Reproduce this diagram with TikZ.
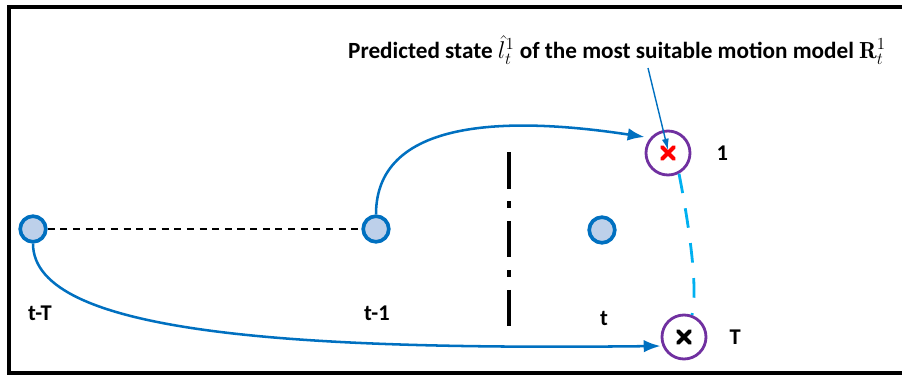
\documentclass[tikz,border=0pt]{standalone}
\usepackage{fontspec}
\setsansfont{Carlito}
\usetikzlibrary{arrows.meta, positioning, calc}
\definecolor{stateblue}{RGB}{0, 112, 192}
\definecolor{statefill}{RGB}{189, 208, 234}
\definecolor{modelpurple}{RGB}{112, 48, 160}
\definecolor{linkcyan}{RGB}{0, 176, 240}

\begin{document}
\begin{tikzpicture}[
    x=0.025cm, y=-0.025cm,
    % Styles embedded for portability
    state/.style={circle, draw=stateblue, fill=statefill, line width=2.6pt, minimum size=0.64cm, inner sep=0pt},
    model/.style={circle, draw=modelpurple, fill=white, line width=2pt, minimum size=1.1cm, inner sep=0pt},
    lbl/.style={font=\sffamily\bfseries\fontsize{16}{18}\selectfont, inner sep=0pt},
    track/.style={draw=stateblue, line width=1.8pt, -{Latex[length=12pt, width=9pt]}},
    pointer/.style={draw=stateblue, line width=1pt, -{Latex[length=8pt, width=5pt]}},
    history/.style={draw=black, line width=2pt, dash pattern=on 5pt off 4pt},
    divider/.style={draw=black, line width=2.8pt, dash pattern=on 26pt off 9pt on 5pt off 9pt},
    switchlink/.style={draw=linkcyan, line width=2pt, dash pattern=on 14pt off 11pt},
    cross/.style={line width=2.8pt, line cap=round}
]

    % --- FRAME ---
    \useasboundingbox (0,0) rectangle (902,376);
    \draw [line width=2.2pt] (910,7) -- (9,7) -- (9,373) -- (910,373);

    % --- STATES OVER TIME ---
    \node [state] (sTT) at (33,229) {};
    \node [state] (sT1) at (376,229) {};
    \node [state] (sT) at (602,230) {};

    \node [lbl] (lTT) at (40,313) {t-T};
    \node [lbl] (lT1) at (377,313) {t-1};
    \node [lbl] (lT) at (604,318) {t};

    % --- MOTION MODELS ---
    \node [model] (m1) at (668,153) {};
    \node [model] (mT) at (684,337) {};
    \node [lbl, right=0.62cm of m1] (l1) {1};
    \node [lbl, right=0.55cm of mT] (lMT) {T};

    % crosses marking predicted states
    \draw [cross, red] ($(m1)+(-6,-6)$) -- ($(m1)+(6,6)$) ($(m1)+(-6,6)$) -- ($(m1)+(6,-6)$);
    \draw [cross, black] ($(mT)+(-6,-6)$) -- ($(mT)+(6,6)$) ($(mT)+(-6,6)$) -- ($(mT)+(6,-6)$);

    % --- TIME DIVIDER ---
    \coordinate (divtop) at (509,152);
    \coordinate (divbot) at (509,330);
    \draw [divider] (divtop) -- (divbot);

    % --- CONNECTIONS ---
    \draw [history] (sTT.east) -- (sT1.west);
    \draw [track] (sT1.north) .. controls (376,114) and (520,118) .. (m1.west |- 0,137);
    \draw [track] (sTT.south) .. controls (33,335) and (300,350) .. (mT.west |- 0,346);
    \draw [switchlink] (m1.-62) .. controls (690,230) and (698,290) .. (mT.70);

    % --- ANNOTATION ---
    \node [lbl, font=\sffamily\bfseries\fontsize{16.5}{18}\selectfont] (note) at (617,50)
        {Predicted state $\hat{l}_t^1$ of the most suitable motion model $\mathbf{R}_t^1$};
    \coordinate (notefoot) at (648,68);
    \draw [pointer] (notefoot) -- ($(m1)+(0,-3)$);

\end{tikzpicture}
\end{document}
